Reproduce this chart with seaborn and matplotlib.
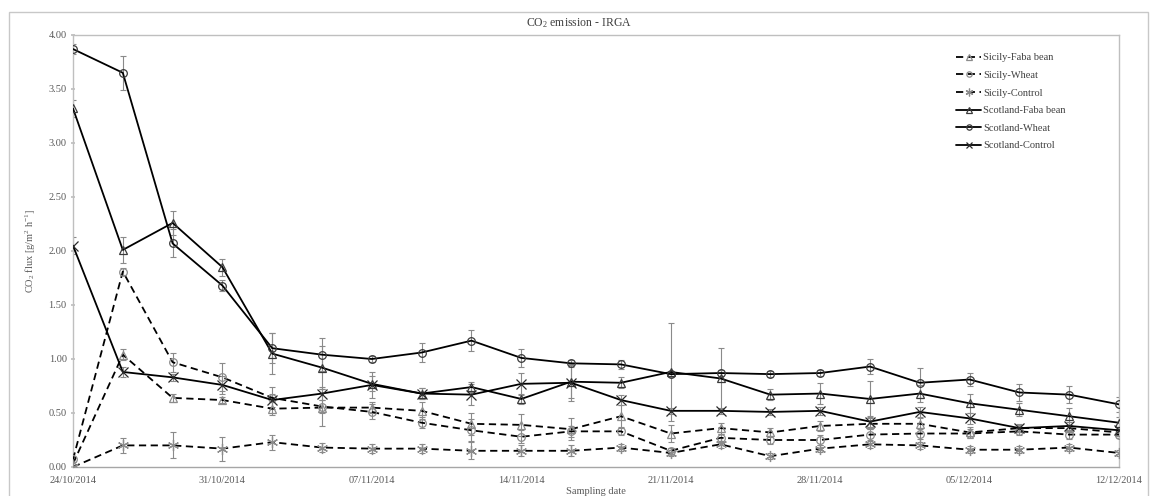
import matplotlib
matplotlib.use("Agg")
import matplotlib.pyplot as plt
from matplotlib.patches import Rectangle
import seaborn as sns
import numpy as np

# ---------------- data ----------------
date_labels = ["24/10/2014", "31/10/2014", "07/11/2014", "14/11/2014",
               "21/11/2014", "28/11/2014", "05/12/2014", "12/12/2014"]
n_samples = 22  # sampling events, labels every third one

sicily_faba = [0.03, 1.04, 0.64, 0.62, 0.54, 0.55, 0.55, 0.52, 0.40, 0.39, 0.35,
               0.47, 0.31, 0.36, 0.32, 0.38, 0.40, 0.40, 0.32, 0.36, 0.36, 0.32]
sicily_faba_err = [0.02, 0.05, 0.04, 0.03, 0.06, 0.17, 0.05, 0.08, 0.10, 0.10, 0.10,
                   0.10, 0.08, 0.05, 0.04, 0.05, 0.05, 0.05, 0.05, 0.03, 0.03, 0.03]

sicily_wheat = [0.07, 1.81, 0.97, 0.83, 0.64, 0.56, 0.51, 0.41, 0.34, 0.28, 0.33,
                0.33, 0.15, 0.27, 0.25, 0.25, 0.30, 0.31, 0.31, 0.33, 0.30, 0.30]
sicily_wheat_err = [0.02, 0.03, 0.09, 0.13, 0.10, 0.06, 0.07, 0.05, 0.10, 0.06, 0.05,
                    0.03, 0.03, 0.04, 0.04, 0.05, 0.05, 0.05, 0.04, 0.03, 0.04, 0.03]

sicily_control = [0.00, 0.20, 0.20, 0.17, 0.23, 0.18, 0.17, 0.17, 0.15, 0.15, 0.15,
                  0.18, 0.13, 0.21, 0.10, 0.17, 0.21, 0.20, 0.16, 0.16, 0.18, 0.13]
sicily_control_err = [0.02, 0.07, 0.12, 0.11, 0.07, 0.04, 0.04, 0.04, 0.08, 0.05, 0.05,
                      0.03, 0.03, 0.03, 0.03, 0.03, 0.03, 0.03, 0.03, 0.03, 0.03, 0.03]

scot_faba = [3.32, 2.01, 2.26, 1.85, 1.05, 0.92, 0.77, 0.68, 0.74, 0.63, 0.79,
             0.78, 0.88, 0.82, 0.67, 0.68, 0.63, 0.68, 0.59, 0.53, 0.47, 0.41]
scot_faba_err = [0.08, 0.12, 0.11, 0.08, 0.19, 0.20, 0.07, 0.05, 0.05, 0.05, 0.15,
                 0.05, 0.45, 0.28, 0.05, 0.10, 0.17, 0.08, 0.09, 0.06, 0.08, 0.05]

scot_wheat = [3.87, 3.65, 2.07, 1.68, 1.10, 1.04, 1.00, 1.06, 1.17, 1.01, 0.96,
              0.95, 0.86, 0.87, 0.86, 0.87, 0.93, 0.78, 0.81, 0.69, 0.67, 0.58]
scot_wheat_err = [0.05, 0.16, 0.13, 0.05, 0.14, 0.15, 0.03, 0.09, 0.10, 0.08, 0.03,
                  0.04, 0.03, 0.03, 0.03, 0.03, 0.07, 0.14, 0.06, 0.08, 0.08, 0.07]

scot_control = [2.05, 0.88, 0.83, 0.76, 0.62, 0.68, 0.76, 0.68, 0.67, 0.77, 0.78,
                0.62, 0.52, 0.52, 0.51, 0.52, 0.42, 0.51, 0.45, 0.36, 0.38, 0.34]
scot_control_err = [0.08, 0.05, 0.03, 0.08, 0.06, 0.06, 0.12, 0.05, 0.10, 0.10, 0.17,
                    0.05, 0.03, 0.03, 0.03, 0.04, 0.05, 0.05, 0.05, 0.04, 0.04, 0.03]

series_names = ["Sicily-Faba bean", "Sicily-Wheat", "Sicily-Control",
                "Scotland-Faba bean", "Scotland-Wheat", "Scotland-Control"]
series_values = [sicily_faba, sicily_wheat, sicily_control,
                 scot_faba, scot_wheat, scot_control]
series_errors = [sicily_faba_err, sicily_wheat_err, sicily_control_err,
                 scot_faba_err, scot_wheat_err, scot_control_err]

# ---------------- style ----------------
sns.set_theme(style="white")
plt.rcParams["font.family"] = ["Liberation Serif", "DejaVu Serif"]
plt.rcParams["mathtext.fontset"] = "custom"
plt.rcParams["mathtext.rm"] = "Liberation Serif"
plt.rcParams["mathtext.it"] = "Liberation Serif:italic"

W, H = 1152, 496
fig = plt.figure(figsize=(W / 100, H / 100), dpi=100)
ax = fig.add_axes([73 / W, 1 - 467 / H, (1119 - 73) / W, (467 - 35) / H])

styles = [
    dict(ls=(0, (4, 2.5)), marker="^", mec="#8c8c8c", ms=5.5),
    dict(ls=(0, (4, 2.5)), marker="o", mec="#8c8c8c", ms=5.5),
    dict(ls=(0, (4, 2.5)), marker=(6, 2, 0), mec="#8c8c8c", ms=8),
    dict(ls="-", marker="^", mec="#3a3a3a", ms=5.5),
    dict(ls="-", marker="o", mec="#3a3a3a", ms=5.5),
    dict(ls="-", marker="x", mec="#2a2a2a", ms=6.5),
]

x = np.arange(n_samples)
for name, vals, errs, st in zip(series_names, series_values, series_errors, styles):
    ax.errorbar(x, vals, yerr=errs, fmt="none", ecolor="#8a8a8a",
                elinewidth=0.8, capsize=2.2, capthick=0.8, zorder=2)
    sns.lineplot(x=x, y=vals, ax=ax, color="black", linewidth=1.3,
                 linestyle=st["ls"], marker=st["marker"], markersize=st["ms"],
                 markerfacecolor="none", markeredgecolor=st["mec"],
                 markeredgewidth=0.9, label=name, zorder=3)

ax.set_xlim(0, n_samples - 1)
ax.set_ylim(0, 4.0)
ax.set_xticks(np.arange(0, n_samples, 3))
ax.set_xticklabels(date_labels)
ax.set_yticks(np.arange(0, 4.01, 0.5))
ax.set_yticklabels([f"{v:.2f}" for v in np.arange(0, 4.01, 0.5)])
ax.tick_params(axis="both", labelsize=7.5, labelcolor="#595959", length=0, pad=3)
ax.tick_params(axis="x", pad=6.5)
ax.tick_params(axis="y", left=True, length=3, color="#bfbfbf", direction="inout")
for sp in ax.spines.values():
    sp.set_color("#bfbfbf")
    sp.set_linewidth(1.0)
ax.spines["bottom"].set_color("#a6a6a6")

ax.set_xlabel("Sampling date", fontsize=7.5, color="#595959", labelpad=1.5)
ax.set_ylabel(r"CO$_2$ flux [g/m$^2$ h$^{-1}$]", fontsize=7.5, color="#595959", labelpad=8)

fig.text(579 / W, 1 - 23 / H, r"CO$_2$ emission - IRGA", ha="center", va="center",
         fontsize=8.5, color="#404040")

leg = ax.legend(loc="upper left", bbox_to_anchor=((956 - 73) / 1046, (467 - 53) / 432),
                frameon=False, fontsize=7.5, handlelength=2.4, markerscale=0.7,
                labelspacing=0.8, borderpad=0.0, handletextpad=0.2,
                borderaxespad=0.0)
for t in leg.get_texts():
    t.set_color("#404040")

# outer chart border
fig.patches.append(Rectangle((9 / W, -0.05), (1148 - 9) / W, 1 - 12 / H + 0.05,
                             transform=fig.transFigure, fill=False,
                             edgecolor="#c8c8c8", linewidth=1.0, zorder=0))

fig.savefig("out.png", dpi=100)
